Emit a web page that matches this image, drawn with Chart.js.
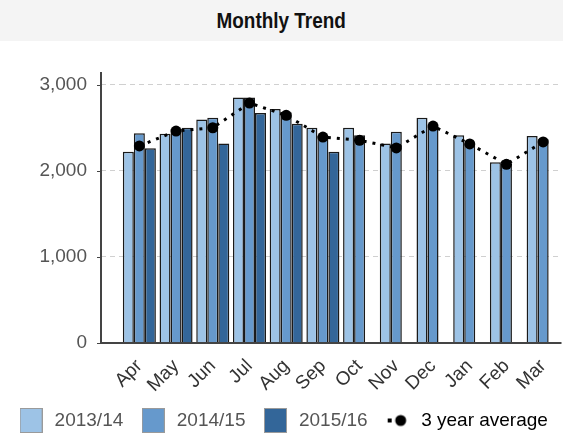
<!DOCTYPE html>
<html lang="en">
<head>
    <meta charset="UTF-8">
    <title>Monthly Trend</title>
    <script src="https://cdn.jsdelivr.net/npm/chart.js"></script>
    <style>
        body {
            margin: 0;
            background: #fff;
            font-family: 'Liberation Sans', Arial, sans-serif;
        }
        .title {
            width: 563px;
            height: 41px;
            line-height: 41px;
            background: #f4f4f4;
            text-align: center;
            font-weight: bold;
            font-size: 22px;
            color: #111;
        }
        .title span {
            display: inline-block;
            transform: scaleX(0.86);
        }
    </style>
</head>
<body>
    <div class="title"><span>Monthly Trend</span></div>
    <canvas id="trendChart" width="567" height="399"></canvas>

    <script>
        const months = ['Apr', 'May', 'Jun', 'Jul', 'Aug', 'Sep', 'Oct', 'Nov', 'Dec', 'Jan', 'Feb', 'Mar'];
        const year1314 = [2222, 2433, 2598, 2854, 2720, 2502, 2502, 2318, 2617, 2414, 2100, 2406];
        const year1415 = [2437, 2490, 2617, 2854, 2682, 2406, 2414, 2456, 2513, 2322, 2080, 2368];
        const year1516 = [2264, 2502, 2318, 2674, 2548, 2222, null, null, null, null, null, null];
        const average3 = [2291, 2463, 2502, 2789, 2647, 2394, 2356, 2268, 2521, 2314, 2077, 2337];
        const yTicks = [0, 1000, 2000, 3000];

        const colors = ['#9dc3e6', '#6699cc', '#336699'];
        const font = { family: "'Liberation Sans', Arial, sans-serif", size: 19 };
        const axisGap = 20;

        // legend icons
        function swatch(color) {
            const c = document.createElement('canvas');
            c.width = 23; c.height = 25;
            const g = c.getContext('2d');
            g.fillStyle = color;
            g.fillRect(0, 0, 23, 25);
            g.strokeStyle = '#9a9a9a';
            g.strokeRect(0.5, 0.5, 22, 24);
            return c;
        }
        function dashDot() {
            const c = document.createElement('canvas');
            c.width = 22; c.height = 14;
            const g = c.getContext('2d');
            g.fillStyle = '#000';
            g.fillRect(1, 5, 4, 4);
            g.beginPath();
            g.arc(14, 7, 5.5, 0, Math.PI * 2);
            g.fill();
            return c;
        }
        const icons = [swatch(colors[0]), swatch(colors[1]), swatch(colors[2]), dashDot()];

        // y axis line sits left of the first category, as in the original
        const axisLines = {
            id: 'axisLines',
            afterDraw(chart) {
                const { ctx, chartArea: a, scales: { y } } = chart;
                const x0 = a.left - axisGap;
                ctx.save();
                ctx.strokeStyle = '#444';
                ctx.lineWidth = 2;
                ctx.beginPath();
                ctx.moveTo(x0, a.top);
                ctx.lineTo(x0, a.bottom);
                ctx.lineTo(a.right, a.bottom);
                ctx.stroke();
                ctx.lineWidth = 1;
                ctx.beginPath();
                y.ticks.forEach(t => {
                    const py = Math.round(y.getPixelForValue(t.value)) + 0.5;
                    ctx.moveTo(x0 - 4, py);
                    ctx.lineTo(x0, py);
                });
                ctx.stroke();
                ctx.restore();
            }
        };

        const barStyle = {
            borderColor: '#1a1a1a',
            borderWidth: 1.5,
            barPercentage: 1,
            categoryPercentage: 0.9
        };

        new Chart(document.getElementById('trendChart'), {
            type: 'bar',
            data: {
                labels: months,
                datasets: [
                    { label: '2013/14', data: year1314, backgroundColor: colors[0], order: 1, ...barStyle },
                    { label: '2014/15', data: year1415, backgroundColor: colors[1], order: 2, ...barStyle },
                    { label: '2015/16', data: year1516, backgroundColor: colors[2], order: 3, ...barStyle },
                    {
                        type: 'line',
                        label: '3 year average',
                        data: average3,
                        order: 0,
                        borderColor: '#000',
                        borderWidth: 3,
                        borderDash: [3, 6],
                        pointRadius: 5.5,
                        pointBackgroundColor: '#000',
                        pointBorderWidth: 0,
                        fill: false
                    }
                ]
            },
            options: {
                responsive: false,
                animation: false,
                layout: { padding: { top: 31, right: 2, left: 0, bottom: 0 } },
                plugins: {
                    tooltip: { enabled: false },
                    legend: {
                        position: 'bottom',
                        labels: {
                            usePointStyle: true,
                            pointStyleWidth: 28,
                            padding: 16,
                            color: '#555',
                            font: font,
                            sort: (a, b) => a.datasetIndex - b.datasetIndex,
                            generateLabels(chart) {
                                const items = Chart.defaults.plugins.legend.labels.generateLabels(chart);
                                items.forEach(it => {
                                    it.pointStyle = icons[it.datasetIndex];
                                    if (it.datasetIndex === 3) it.fontColor = '#000';
                                });
                                return items;
                            }
                        }
                    }
                },
                scales: {
                    x: {
                        grid: { display: false },
                        border: { display: false },
                        afterFit: s => { s.height = 52; },
                        ticks: { minRotation: 45, maxRotation: 45, color: '#333', font: font, padding: 4 }
                    },
                    y: {
                        min: 0,
                        max: 3150,
                        afterBuildTicks: s => { s.ticks = yTicks.map(v => ({ value: v })); },
                        afterFit: s => { s.width = 121; },
                        border: { display: false, dash: [5, 4] },
                        grid: {
                            color: '#d0d0d0',
                            tickLength: axisGap,
                            tickColor: '#d0d0d0',
                            tickBorderDash: [5, 4]
                        },
                        ticks: {
                            padding: 14,
                            color: '#555',
                            font: font,
                            callback: v => v.toLocaleString('en-US')
                        }
                    }
                }
            },
            plugins: [axisLines]
        });
    </script>
</body>
</html>
